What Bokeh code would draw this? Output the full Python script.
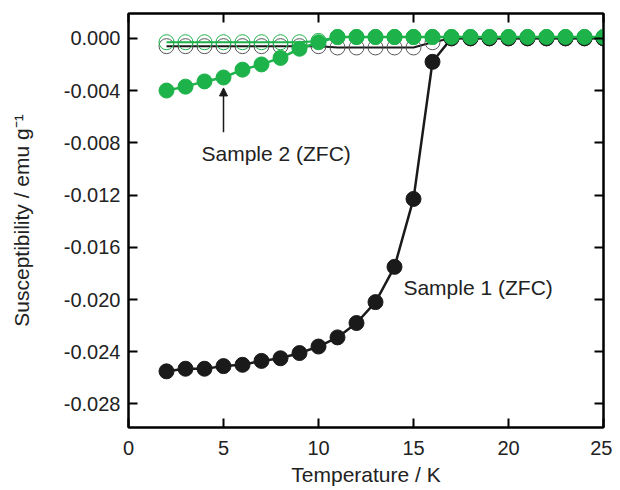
from bokeh.plotting import figure
from bokeh.models import LinearAxis, FixedTicker, Label, Arrow, NormalHead, CustomLabelingPolicy
from bokeh.embed import file_html
from bokeh.resources import INLINE

# ---- data ----
temperature = [2, 3, 4, 5, 6, 7, 8, 9, 10, 11, 12, 13, 14, 15, 16, 17, 18, 19, 20, 21, 22, 23, 24, 25]

sample1_zfc = [-0.0255, -0.0253, -0.0253, -0.0251, -0.0250, -0.0247, -0.0245, -0.0241, -0.0236, -0.0229,
               -0.0218, -0.0202, -0.0175, -0.0123, -0.0018, 0.0000, 0.0000, 0.0000, 0.0000, 0.0000,
               0.0000, 0.0000, 0.0000, 0.0000]
sample1_fc = [-0.0006, -0.0006, -0.0006, -0.0006, -0.0006, -0.0006, -0.0006, -0.0006, -0.0006, -0.0007,
              -0.0007, -0.0007, -0.0007, -0.0007, -0.0003, 0.0000, 0.0000, 0.0000, 0.0000, 0.0000,
              0.0000, 0.0000, 0.0000, 0.0000]
sample2_zfc = [-0.0040, -0.0037, -0.0033, -0.0030, -0.0024, -0.0020, -0.0015, -0.0008, -0.0003, 0.0001,
               0.0001, 0.0001, 0.0001, 0.0001, 0.0001, 0.0001, 0.0001, 0.0001, 0.0001, 0.0001,
               0.0001, 0.0001, 0.0001, 0.0001]
sample2_fc = [-0.0003, -0.0003, -0.0003, -0.0003, -0.0003, -0.0003, -0.0003, -0.0003, -0.0002, 0.0001,
              0.0001, 0.0001, 0.0001, 0.0001, 0.0001, 0.0001, 0.0001, 0.0001, 0.0001, 0.0001,
              0.0001, 0.0001, 0.0001, 0.0001]

x_ticks = [0, 5, 10, 15, 20, 25]
y_ticks = [0.0, -0.004, -0.008, -0.012, -0.016, -0.020, -0.024, -0.028]
y_tick_labels = ["0.000", "-0.004", "-0.008", "-0.012", "-0.016", "-0.020", "-0.024", "-0.028"]

label_sample1 = "Sample 1 (ZFC)"
label_sample2 = "Sample 2 (ZFC)"

GREEN = "#1db34a"
BLACK = "#1a1a1a"
FONT = "Liberation Sans"
TXT = "#222222"

p = figure(width=612, height=488, x_range=(0, 25), y_range=(-0.0298, 0.0019),
           output_backend="svg", toolbar_location=None,
           min_border_left=128, min_border_right=9, min_border_top=13, min_border_bottom=10)
p.grid.visible = False
p.outline_line_color = "black"
p.outline_line_width = 2

# main axes
for ax in (p.xaxis[0], p.yaxis[0]):
    ax.axis_line_width = 2
    ax.axis_line_color = "black"
    ax.major_tick_in = 9
    ax.major_tick_out = 0
    ax.major_tick_line_width = 2
    ax.minor_tick_line_color = None
    ax.major_label_text_font = FONT
    ax.major_label_text_font_size = "20px"
    ax.major_label_text_color = TXT
    ax.axis_label_text_font = FONT
    ax.axis_label_text_font_size = "21px"
    ax.axis_label_text_font_style = "normal"
    ax.axis_label_text_color = TXT

p.xaxis[0].ticker = FixedTicker(ticks=x_ticks)
p.xaxis[0].axis_label = "Temperature / K"
p.xaxis[0].major_label_standoff = 13
p.xaxis[0].axis_label_standoff = 5

p.yaxis[0].ticker = FixedTicker(ticks=y_ticks)
p.yaxis[0].major_label_overrides = {t: l for t, l in zip(y_ticks, y_tick_labels)}
p.yaxis[0].axis_label = "Susceptibility / emu g\u207b\u00b9"
p.yaxis[0].major_label_standoff = 8
p.yaxis[0].axis_label_standoff = 28

# mirrored axes (ticks only, no labels)
no_labels = CustomLabelingPolicy(code="return new Set()")
top = LinearAxis(ticker=FixedTicker(ticks=x_ticks), major_label_policy=no_labels)
right = LinearAxis(ticker=FixedTicker(ticks=y_ticks), major_label_policy=no_labels)
for ax in (top, right):
    ax.axis_line_width = 2
    ax.major_tick_in = 9
    ax.major_tick_out = 0
    ax.major_tick_line_width = 2
    ax.minor_tick_line_color = None
    ax.major_label_standoff = 0
    ax.major_label_text_font_size = "1px"
p.add_layout(top, "above")
p.add_layout(right, "right")

# FC (open circles)
p.line(temperature, sample1_fc, line_color=BLACK, line_width=2)
p.scatter(temperature, sample1_fc, size=15, fill_color=None, line_color="#555555", line_width=1)
p.line(temperature, sample2_fc, line_color=GREEN, line_width=2)
p.scatter(temperature, sample2_fc, size=15, fill_color=None, line_color=GREEN, line_width=1)

# ZFC (filled)
p.line(temperature, sample1_zfc, line_color=BLACK, line_width=2.5)
p.scatter(temperature, sample1_zfc, size=15, fill_color=BLACK, line_color=BLACK)
p.line(temperature, sample2_zfc, line_color=GREEN, line_width=2.5)
p.scatter(temperature, sample2_zfc, size=15, fill_color=GREEN, line_color=GREEN)

# annotations
p.add_layout(Label(x=14.47, y=-0.0191, text=label_sample1, text_font=FONT, text_font_size="21px",
                   text_color=TXT, text_baseline="alphabetic"))
p.add_layout(Label(x=3.84, y=-0.00885, text=label_sample2, text_font=FONT, text_font_size="21px",
                   text_color=TXT, text_baseline="alphabetic"))
p.add_layout(Arrow(x_start=5.0, y_start=-0.0072, x_end=5.0, y_end=-0.0038,
                   line_color=BLACK, line_width=1.5,
                   end=NormalHead(size=8, fill_color=BLACK, line_color=BLACK)))

open("out.html", "w").write(file_html(p, INLINE))
